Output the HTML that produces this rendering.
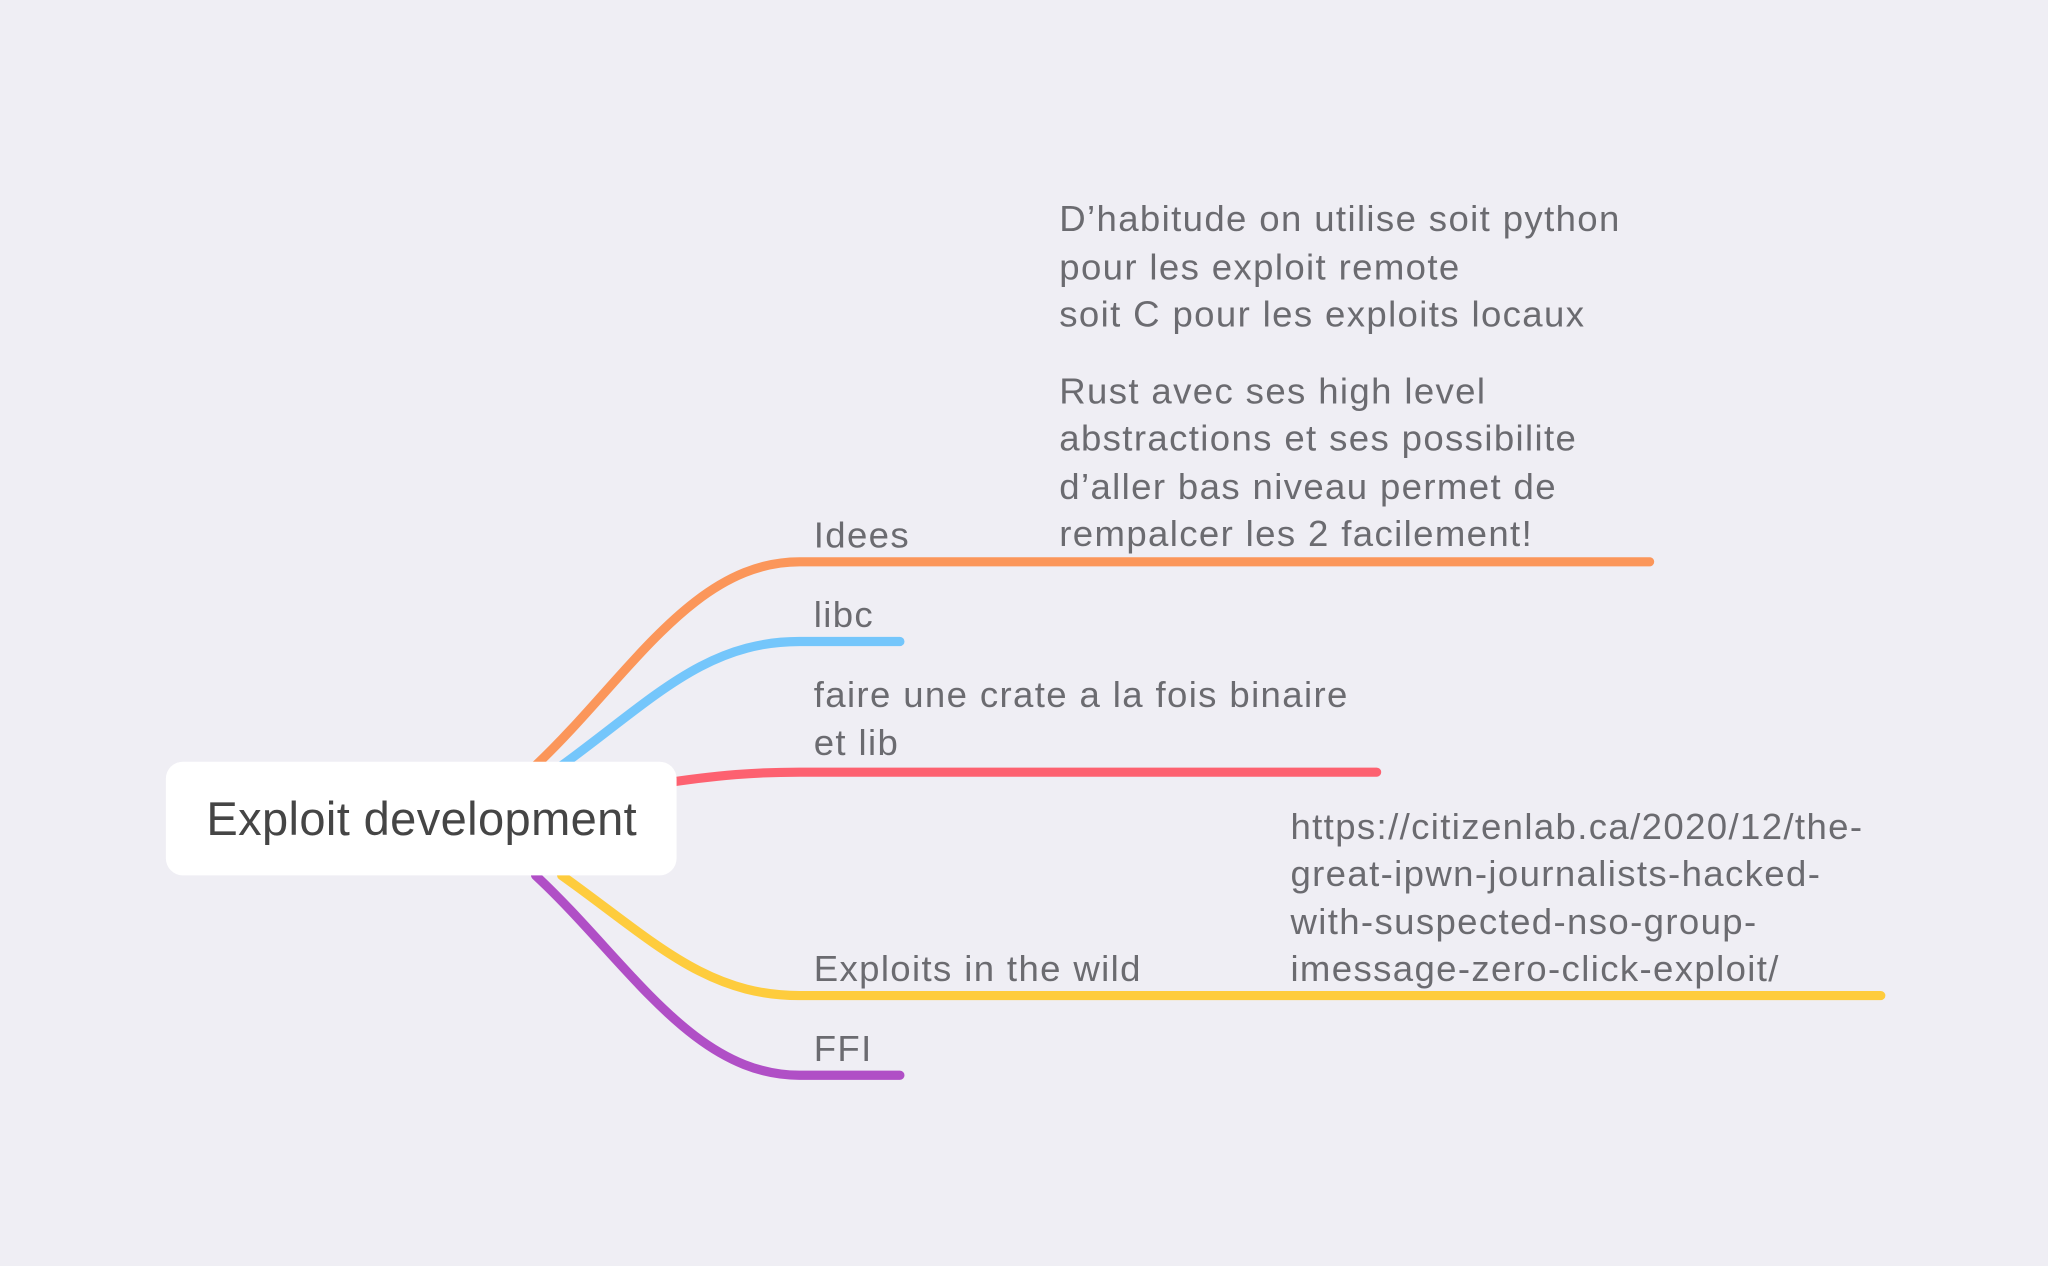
<!DOCTYPE html>
<html><head><meta charset="utf-8"><style>
html,body{margin:0;padding:0;background:#efeef4;}
svg{display:block}
text{font-family:"Liberation Sans",Helvetica,Arial,sans-serif;fill:#6b6b70;font-size:28px;letter-spacing:1.05px}
</style></head><body>
<svg width="2048" height="1266" viewBox="0 0 1568 969" preserveAspectRatio="none" xmlns="http://www.w3.org/2000/svg">
<rect width="1568" height="969" fill="#efeef4"/>
<g fill="none" stroke-width="7" stroke-linecap="round">
<path d="M410 586 C480 520 530 430 612 430 L1263 430" stroke="#fb965a"/>
<path d="M430 586 C500 535 540 491 612 491 L689 491" stroke="#74c6fb"/>
<path d="M505 600 C550 593 580 591 612 591 L1054 591" stroke="#fd6170"/>
<path d="M430 670 C500 720 540 762 612 762 L1440 762" stroke="#fecc3d"/>
<path d="M410 670 C480 735 530 823 612 823 L689 823" stroke="#b04fc6"/>
</g>
<rect x="127" y="583" width="391" height="87" rx="13" fill="#fff"/>
<text x="158" y="639" style="font-size:36px;fill:#454545;letter-spacing:0.3px">Exploit development</text>
<text x="623" y="419">Idees</text>
<text x="623" y="480">libc</text>
<text x="623" y="541">faire une crate a la fois binaire</text>
<text x="623" y="578">et lib</text>
<text x="623" y="751">Exploits in the wild</text>
<text x="623" y="812">FFI</text>
<text x="811" y="177">D’habitude on utilise soit python</text>
<text x="811" y="214">pour les exploit remote</text>
<text x="811" y="250">soit C pour les exploits locaux</text>
<text x="811" y="309">Rust avec ses high level</text>
<text x="811" y="345">abstractions et ses possibilite</text>
<text x="811" y="382">d’aller bas niveau permet de</text>
<text x="811" y="418">rempalcer les 2 facilement!</text>
<text x="988" y="642">https://citizenlab.ca/2020/12/the-</text>
<text x="988" y="678">great-ipwn-journalists-hacked-</text>
<text x="988" y="715">with-suspected-nso-group-</text>
<text x="988" y="751">imessage-zero-click-exploit/</text>
</svg>
</body></html>
